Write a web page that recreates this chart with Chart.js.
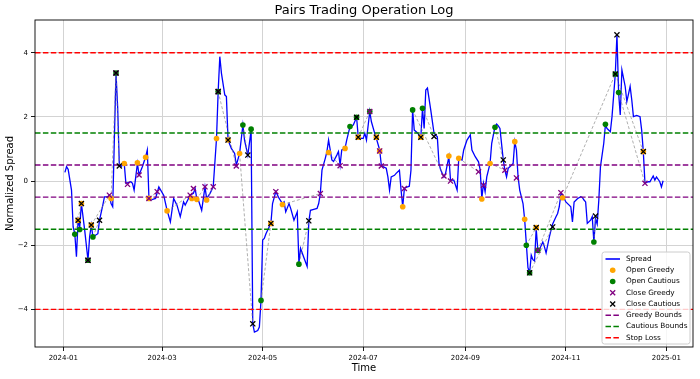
<!DOCTYPE html>
<html><head><meta charset="utf-8">
<script src="https://cdn.jsdelivr.net/npm/chart.js@4/dist/chart.umd.min.js"></script>
<style>html,body{margin:0;padding:0;background:#fff}#wrap{width:700px;height:379px}</style>
</head><body><div id="wrap"><canvas id="c" width="700" height="379"></canvas></div>
<script>
const titleText = 'Pairs Trading Operation Log';
const xTitle = 'Time';
const yTitle = 'Normalized Spread';
const xTickDates = ['2024-01-01','2024-03-01','2024-05-01','2024-07-01','2024-09-01','2024-11-01','2025-01-01'];
const xTickLabels = ['2024-01','2024-03','2024-05','2024-07','2024-09','2024-11','2025-01'];
const yTickValues = [-4,-2,0,2,4];
const greedyBound = 0.5, cautiousBound = 1.5, stopLoss = 4;

const dates = ['2024-01-02','2024-01-03','2024-01-04','2024-01-06','2024-01-07','2024-01-08','2024-01-09','2024-01-10','2024-01-11','2024-01-12','2024-01-14','2024-01-16','2024-01-17','2024-01-18','2024-01-19','2024-01-22','2024-01-23','2024-01-25','2024-01-26','2024-01-28','2024-01-29','2024-01-30','2024-01-31',
'2024-02-02','2024-02-03','2024-02-04','2024-02-05','2024-02-07','2024-02-08','2024-02-11','2024-02-12','2024-02-13','2024-02-15','2024-02-16','2024-02-18','2024-02-20','2024-02-21','2024-02-22','2024-02-23','2024-02-26','2024-02-28',
'2024-03-02','2024-03-04','2024-03-06','2024-03-08','2024-03-10','2024-03-12','2024-03-14','2024-03-15','2024-03-18','2024-03-20','2024-03-21','2024-03-22','2024-03-23','2024-03-25','2024-03-27','2024-03-28','2024-03-30',
'2024-04-01','2024-04-03','2024-04-04','2024-04-05','2024-04-06','2024-04-08','2024-04-09','2024-04-10','2024-04-12','2024-04-14','2024-04-15','2024-04-17','2024-04-19','2024-04-20','2024-04-22','2024-04-24','2024-04-25','2024-04-26','2024-04-28','2024-04-29','2024-04-30',
'2024-05-01','2024-05-02','2024-05-03','2024-05-04','2024-05-06','2024-05-07','2024-05-09','2024-05-11','2024-05-13','2024-05-14','2024-05-15','2024-05-17','2024-05-18','2024-05-20','2024-05-22','2024-05-23','2024-05-24','2024-05-26','2024-05-28','2024-05-29','2024-05-30',
'2024-06-01','2024-06-03','2024-06-04','2024-06-05','2024-06-06','2024-06-08','2024-06-09','2024-06-10','2024-06-12','2024-06-13','2024-06-15','2024-06-16','2024-06-17','2024-06-18','2024-06-20','2024-06-21','2024-06-23','2024-06-25','2024-06-27','2024-06-28','2024-06-30',
'2024-07-01','2024-07-02','2024-07-03','2024-07-05','2024-07-06','2024-07-08','2024-07-09','2024-07-11','2024-07-12','2024-07-13','2024-07-15','2024-07-16','2024-07-17','2024-07-18','2024-07-20','2024-07-21','2024-07-23','2024-07-24','2024-07-25','2024-07-26','2024-07-27','2024-07-29','2024-07-30','2024-07-31',
'2024-08-01','2024-08-03','2024-08-05','2024-08-06','2024-08-07','2024-08-08','2024-08-09','2024-08-11','2024-08-13','2024-08-15','2024-08-16','2024-08-17','2024-08-19','2024-08-20','2024-08-22','2024-08-23','2024-08-25','2024-08-27','2024-08-28','2024-08-30','2024-08-31',
'2024-09-02','2024-09-04','2024-09-05','2024-09-07','2024-09-09','2024-09-10','2024-09-11','2024-09-12','2024-09-13','2024-09-14','2024-09-16','2024-09-17','2024-09-19','2024-09-20','2024-09-21','2024-09-22','2024-09-24','2024-09-25','2024-09-26','2024-09-27','2024-09-28','2024-09-30',
'2024-10-01','2024-10-02','2024-10-03','2024-10-04','2024-10-06','2024-10-07','2024-10-08','2024-10-09','2024-10-10','2024-10-11','2024-10-12','2024-10-13','2024-10-14','2024-10-15','2024-10-16','2024-10-18','2024-10-19','2024-10-20','2024-10-22','2024-10-23','2024-10-24','2024-10-26','2024-10-27','2024-10-28','2024-10-29','2024-10-30',
'2024-11-01','2024-11-03','2024-11-04','2024-11-05','2024-11-06','2024-11-08','2024-11-10','2024-11-11','2024-11-12','2024-11-13','2024-11-14','2024-11-16','2024-11-17','2024-11-18','2024-11-19','2024-11-20','2024-11-21','2024-11-22','2024-11-24','2024-11-25','2024-11-26','2024-11-28','2024-11-29',
'2024-12-01','2024-12-02','2024-12-03','2024-12-04','2024-12-05','2024-12-07','2024-12-08','2024-12-10','2024-12-11','2024-12-12','2024-12-14','2024-12-16','2024-12-17','2024-12-18','2024-12-19','2024-12-21','2024-12-22','2024-12-24','2024-12-25','2024-12-26','2024-12-28','2024-12-29','2024-12-30'];

const spread = [0.27,0.45,0.36,-0.28,-1.43,-1.64,-2.36,-1.22,-1.43,-0.70,-1.53,-2.47,-1.74,-1.37,-1.74,-1.64,-1.22,-0.75,-0.49,-0.49,-0.44,-0.70,-0.80,
3.37,2.32,0.55,0.45,0.55,-0.07,-0.02,-0.07,-0.28,0.55,0.19,0.45,0.76,0.97,-0.54,-0.59,-0.54,-0.18,
-0.45,-0.91,-1.27,-0.54,-0.75,-1.11,-0.65,-0.75,-0.44,-0.38,-0.23,-0.54,-0.59,-0.91,-0.18,-0.54,-0.39,
-0.18,1.33,2.79,3.88,3.36,2.69,2.64,1.28,1.02,0.86,0.50,0.86,1.75,1.28,0.81,1.59,-4.45,-4.71,-4.66,-4.55,-3.72,
-1.84,-1.79,-1.64,-1.53,-1.32,-0.70,-0.33,-0.54,-0.70,-0.65,-0.96,-0.70,-0.85,-1.22,-0.96,-2.57,-2.10,-2.38,-2.66,-1.27,-0.91,
-0.88,-0.85,-0.70,-0.39,0.34,0.71,0.92,1.28,0.66,0.61,0.81,0.92,0.50,0.97,1.02,1.28,1.70,1.75,1.99,1.38,1.33,
1.33,1.49,1.28,2.17,1.85,1.49,1.33,0.97,0.50,0.45,0.40,0.13,-0.28,0.13,0.18,0.24,0.34,-0.28,-0.80,-0.23,-0.20,-0.16,0.34,2.22,
1.59,1.50,1.38,2.27,1.64,2.84,2.90,2.22,1.49,1.38,0.55,0.35,0.13,0.24,0.76,0.03,0.03,-0.28,0.71,0.66,0.97,
1.28,1.44,0.97,0.76,0.60,0.35,-0.54,-0.07,-0.33,0.13,0.55,1.18,1.70,1.78,1.72,1.64,0.66,0.34,0.13,0.40,0.45,0.55,
1.23,0.97,0.13,-0.28,-0.70,-1.20,-1.95,-2.70,-2.86,-2.31,-2.45,-2.49,-1.48,-2.16,-2.13,-1.90,-2.05,-2.24,-1.74,-1.53,-1.34,-1.11,-1.01,-0.80,-0.39,-0.44,
-0.65,-0.75,-0.80,-1.27,-0.65,-0.55,-0.49,-0.51,-0.59,-0.65,-1.32,-1.22,-1.11,-1.90,-1.17,-1.34,-0.59,0.45,1.18,1.75,1.64,1.54,2.01,
3.34,4.56,2.76,2.06,3.47,2.95,2.48,2.95,2.53,2.01,2.05,2.01,1.59,0.92,-0.07,-0.02,-0.02,0.16,0.03,0.13,-0.02,-0.18,0.01];

const openGreedyDates = ['2024-01-10','2024-01-12','2024-01-18','2024-01-30','2024-02-07','2024-02-15','2024-02-20','2024-02-22','2024-03-04','2024-03-19','2024-03-22','2024-03-28','2024-04-03','2024-04-10','2024-04-17','2024-05-06','2024-05-13','2024-06-10','2024-06-20','2024-06-28','2024-07-09','2024-07-11','2024-07-25','2024-08-05','2024-08-22','2024-08-28','2024-09-11','2024-09-16','2024-10-01','2024-10-07','2024-10-14','2024-10-30','2024-12-18'];
const openGreedyVals = [-1.22,-0.70,-1.37,-0.54,0.55,0.57,0.74,-0.54,-0.93,-0.54,-0.57,-0.59,1.33,1.28,0.86,-1.32,-0.73,0.89,1.02,1.37,1.37,0.94,-0.80,1.37,0.78,0.71,-0.56,0.55,1.23,-1.19,-1.45,-0.52,0.92];

const openCautiousDates = ['2024-01-08','2024-01-11','2024-01-16','2024-01-19','2024-02-02','2024-04-04','2024-04-19','2024-04-24','2024-04-30','2024-05-23','2024-06-23','2024-06-27','2024-07-05','2024-07-31','2024-08-06','2024-09-19','2024-10-08','2024-10-10','2024-10-15','2024-11-18','2024-11-25','2024-12-01','2024-12-03'];
const openCautiousVals = [-1.66,-1.51,-2.47,-1.74,3.37,2.79,1.75,1.62,-3.72,-2.59,1.70,1.99,2.17,2.22,2.27,1.68,-2.0,-2.86,-2.16,-1.90,1.77,3.34,2.76];

const closeGreedyDates = ['2024-01-16','2024-01-29','2024-02-02','2024-02-09','2024-02-16','2024-02-22','2024-02-27','2024-03-18','2024-03-20','2024-03-27','2024-04-01','2024-04-04','2024-04-15','2024-05-09','2024-06-05','2024-06-17','2024-07-05','2024-07-11','2024-07-12','2024-07-26','2024-08-19','2024-08-23','2024-09-09','2024-09-12','2024-09-25','2024-10-02','2024-10-15','2024-10-29','2024-12-19'];
const closeGreedyVals = [-2.47,-0.44,3.37,-0.10,0.19,-0.54,-0.33,-0.44,-0.23,-0.18,-0.18,2.79,0.47,-0.33,-0.39,0.48,2.17,0.94,0.47,-0.23,0.16,0.0,0.29,-0.13,0.34,0.10,-2.16,-0.36,-0.07];

const closeCautiousDates = ['2024-01-10','2024-01-12','2024-01-16','2024-01-18','2024-01-23','2024-02-02','2024-02-04','2024-04-04','2024-04-10','2024-04-22','2024-04-25','2024-05-06','2024-05-29','2024-06-27','2024-06-28','2024-07-09','2024-08-05','2024-08-13','2024-09-24','2024-10-10','2024-10-14','2024-10-24','2024-11-19','2024-12-01','2024-12-02','2024-12-18'];
const closeCautiousVals = [-1.22,-0.70,-2.47,-1.37,-1.22,3.37,0.47,2.79,1.28,0.81,-4.45,-1.32,-1.24,1.99,1.37,1.37,1.37,1.39,0.66,-2.86,-1.45,-1.43,-1.09,3.34,4.56,0.92];

const tradeOpenDates = ['2024-01-08','2024-01-19','2024-01-18','2024-01-30','2024-02-02','2024-02-22','2024-03-04','2024-03-22','2024-03-28','2024-04-04','2024-04-17','2024-04-19','2024-04-30','2024-05-13','2024-05-23','2024-06-10','2024-06-28','2024-07-31','2024-08-06','2024-08-28','2024-09-16','2024-09-19','2024-10-08','2024-10-10','2024-10-15','2024-10-30','2024-12-01','2024-12-03','2024-11-18'];
const tradeOpenVals = [-1.66,-1.74,-1.37,-0.54,3.37,-0.54,-0.93,-0.57,-0.59,2.79,0.86,1.75,-3.72,-0.73,-2.59,0.89,1.37,2.22,2.27,0.71,0.55,1.68,-2.0,-2.86,-2.16,-0.52,3.34,2.76,-1.90];
const tradeCloseDates = ['2024-01-12','2024-01-23','2024-01-29','2024-02-02','2024-02-04','2024-02-27','2024-03-18','2024-03-27','2024-04-01','2024-04-15','2024-04-25','2024-04-22','2024-05-06','2024-06-05','2024-05-29','2024-06-17','2024-07-05','2024-08-19','2024-08-13','2024-09-09','2024-09-25','2024-09-24','2024-10-14','2024-10-24','2024-10-29','2024-12-01','2024-12-18','2024-12-19','2024-11-19'];
const tradeCloseVals = [-0.70,-1.22,-0.44,3.37,0.47,-0.33,-0.44,-0.18,-0.18,0.47,-4.45,0.81,-1.32,-0.39,-1.24,0.48,2.17,0.16,1.39,0.29,0.34,0.66,-1.45,-1.43,-0.36,3.34,0.92,-0.07,-1.09];

const legendLabels = ['Spread','Open Greedy','Open Cautious','Close Greedy','Close Cautious','Greedy Bounds','Cautious Bounds','Stop Loss'];

// ---- helpers ----
const T0 = Date.UTC(2024,0,1);
const toDay = s => (Date.parse(s + 'T00:00:00Z') - T0) / 86400000;
const pts = (ds, vs) => ds.map((d,i) => ({x: toDay(d), y: vs[i]}));

const xs = dates.map(toDay);
const xSpan = xs[xs.length-1] - xs[0];
const xMin = xs[0] - 0.05*xSpan, xMax = xs[xs.length-1] + 0.05*xSpan;
const allY = spread.concat(closeCautiousVals, openCautiousVals);
const yLo = Math.min(...allY), yHi = Math.max(...allY), ySpan = yHi - yLo;
const yMin = yLo - 0.05*ySpan, yMax = yHi + 0.05*ySpan;

const tradeData = [];
tradeOpenDates.forEach((d,i) => {
  tradeData.push({x: toDay(d), y: tradeOpenVals[i]});
  tradeData.push({x: toDay(tradeCloseDates[i]), y: tradeCloseVals[i]});
  tradeData.push({x: toDay(tradeCloseDates[i]), y: null});
});
const hline = v => [{x: xMin, y: v}, {x: xMax, y: v}];

const C = {blue:'#0000ff', orange:'#ffa500', green:'#008000', purple:'#800080', black:'#000000', red:'#ff0000', gray:'rgba(128,128,128,0.7)'};
const FONT = '"DejaVu Sans", sans-serif';
const DASH = [5.5, 2.4];

const boundDs = (v, color, order) => ({type:'line', data: hline(v), borderColor: color, borderWidth: 1.4, borderDash: DASH, pointRadius: 0, order});
const markerDs = (data, style, color, order, r) => ({type:'scatter', data, pointStyle: style, pointRadius: r,
  backgroundColor: style === 'circle' ? color : 'transparent', borderColor: color, borderWidth: style === 'circle' ? 0 : 1.3, order});

const datasets = [
  {type:'line', data: pts(dates, spread), borderColor: C.blue, borderWidth: 1.3, pointRadius: 0, tension: 0, order: 7},
  {type:'line', data: tradeData, borderColor: C.gray, borderWidth: 0.9, borderDash: [3,2], pointRadius: 0, spanGaps: false, order: 6},
  boundDs(greedyBound, C.purple, 5), boundDs(-greedyBound, C.purple, 5),
  boundDs(cautiousBound, C.green, 5), boundDs(-cautiousBound, C.green, 5),
  boundDs(stopLoss, C.red, 5), boundDs(-stopLoss, C.red, 5),
  markerDs(pts(openGreedyDates, openGreedyVals), 'circle', C.orange, 4, 2.8),
  markerDs(pts(openCautiousDates, openCautiousVals), 'circle', C.green, 3, 2.8),
  markerDs(pts(closeGreedyDates, closeGreedyVals), 'crossRot', C.purple, 2, 3.6),
  markerDs(pts(closeCautiousDates, closeCautiousVals), 'crossRot', C.black, 1, 3.6)
];

const titlePlugin = {
  id: 'mplTitle',
  afterDraw(chart) {
    const ctx = chart.ctx, a = chart.chartArea;
    ctx.save();
    ctx.font = '13px ' + FONT; ctx.fillStyle = '#000';
    ctx.textAlign = 'center'; ctx.textBaseline = 'middle';
    ctx.fillText(titleText, (a.left + a.right)/2, 11);
    ctx.restore();
  }
};
const framePlugin = {
  id: 'mplFrame',
  afterDatasetsDraw(chart) {
    const ctx = chart.ctx, a = chart.chartArea;
    ctx.save(); ctx.strokeStyle = '#000'; ctx.lineWidth = 0.9;
    ctx.strokeRect(a.left, a.top, a.right - a.left, a.bottom - a.top);
    ctx.restore();
  }
};
const legendPlugin = {
  id: 'mplLegend',
  afterDraw(chart) {
    const ctx = chart.ctx, a = chart.chartArea;
    const w = 88, h = 92, x0 = a.right - 3 - w, y0 = a.bottom - 3 - h;
    ctx.save();
    ctx.beginPath();
    const r = 2.5;
    ctx.moveTo(x0 + r, y0); ctx.lineTo(x0 + w - r, y0); ctx.quadraticCurveTo(x0 + w, y0, x0 + w, y0 + r);
    ctx.lineTo(x0 + w, y0 + h - r); ctx.quadraticCurveTo(x0 + w, y0 + h, x0 + w - r, y0 + h);
    ctx.lineTo(x0 + r, y0 + h); ctx.quadraticCurveTo(x0, y0 + h, x0, y0 + h - r);
    ctx.lineTo(x0, y0 + r); ctx.quadraticCurveTo(x0, y0, x0 + r, y0); ctx.closePath();
    ctx.fillStyle = 'rgba(255,255,255,0.8)'; ctx.fill();
    ctx.strokeStyle = '#cccccc'; ctx.lineWidth = 1; ctx.stroke();
    ctx.font = '7.3px ' + FONT; ctx.textBaseline = 'middle'; ctx.textAlign = 'left';
    const hx0 = x0 + 3.5, hx1 = x0 + 18, mx = x0 + 10.7;
    legendLabels.forEach((lab, i) => {
      const y = y0 + 7 + i * 11.25;
      ctx.setLineDash([]);
      if (i === 0) { ctx.strokeStyle = C.blue; ctx.lineWidth = 1.6; ctx.beginPath(); ctx.moveTo(hx0, y); ctx.lineTo(hx1, y); ctx.stroke(); }
      else if (i === 1 || i === 2) { ctx.fillStyle = i === 1 ? C.orange : C.green; ctx.beginPath(); ctx.arc(mx, y, 2.8, 0, Math.PI*2); ctx.fill(); }
      else if (i === 3 || i === 4) { ctx.strokeStyle = i === 3 ? C.purple : C.black; ctx.lineWidth = 1.3; const d = 2.5;
        ctx.beginPath(); ctx.moveTo(mx-d, y-d); ctx.lineTo(mx+d, y+d); ctx.moveTo(mx-d, y+d); ctx.lineTo(mx+d, y-d); ctx.stroke(); }
      else { ctx.strokeStyle = [C.purple, C.green, C.red][i-5]; ctx.lineWidth = 1.4; ctx.setLineDash(DASH);
        ctx.beginPath(); ctx.moveTo(hx0, y); ctx.lineTo(hx1, y); ctx.stroke(); ctx.setLineDash([]); }
      ctx.fillStyle = '#000';
      ctx.fillText(lab, x0 + 24, y);
    });
    ctx.restore();
  }
};

new Chart(document.getElementById('c'), {
  data: { datasets },
  options: {
    responsive: false, animation: false, events: [], devicePixelRatio: 1,
    layout: { padding: { top: 20, right: 7, bottom: 0, left: 0 } },
    plugins: { legend: { display: false }, tooltip: { enabled: false }, title: { display: false } },
    scales: {
      x: {
        type: 'linear', min: xMin, max: xMax,
        afterFit(s) { s.height = 32; },
        afterBuildTicks(s) { s.ticks = xTickDates.map(d => ({value: toDay(d)})); },
        ticks: { callback: (v, i) => xTickLabels[i], font: {family: FONT, size: 7}, color: '#000', padding: 3, maxRotation: 0, autoSkip: false },
        grid: { color: '#d3d3d3', lineWidth: 1, tickColor: '#000', tickLength: 4, tickWidth: 0.9 },
        border: { display: false },
        title: { display: true, text: xTitle, font: {family: FONT, size: 10}, color: '#000', padding: {top: 0, bottom: 4.7} }
      },
      y: {
        type: 'linear', min: yMin, max: yMax,
        afterFit(s) { s.width = 35; },
        afterBuildTicks(s) { s.ticks = yTickValues.map(v => ({value: v})); },
        ticks: { callback: v => (v < 0 ? '\u2212' + Math.abs(v) : String(v)), font: {family: FONT, size: 7}, color: '#000', padding: 3 },
        grid: { color: '#d3d3d3', lineWidth: 1, tickColor: '#000', tickLength: 4, tickWidth: 0.9 },
        border: { display: false },
        title: { display: true, text: yTitle, font: {family: FONT, size: 10}, color: '#000', padding: {top: 4, bottom: 0} }
      }
    }
  },
  plugins: [titlePlugin, framePlugin, legendPlugin]
});
</script></body></html>
